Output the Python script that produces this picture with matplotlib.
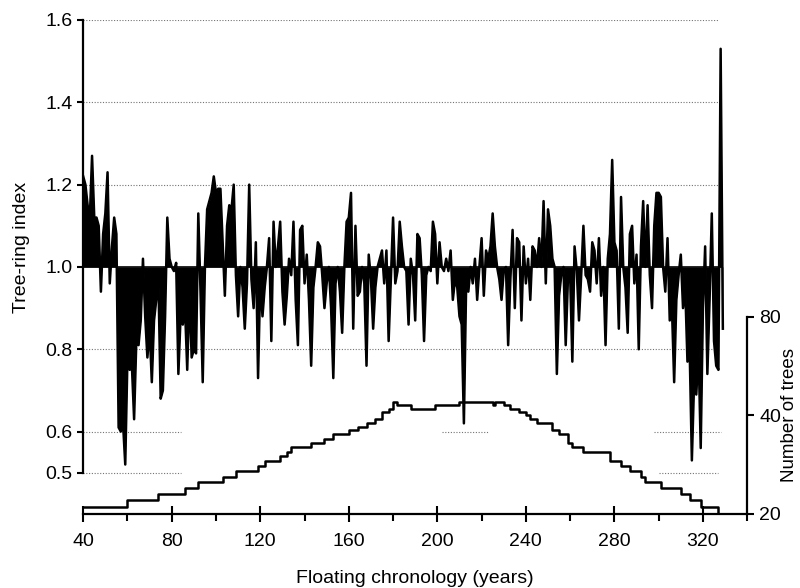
import numpy as np
import matplotlib
matplotlib.use("Agg")
import matplotlib.pyplot as plt

plt.rcParams['font.family'] = ['Liberation Sans', 'DejaVu Sans']

# tree-ring index, one value per year starting at year 40
ring_index = [
    1.22, 1.20, 1.15, 1.12, 1.27, 1.12, 1.12, 1.10, 0.94, 1.08,   # 40-49
    1.13, 1.23, 0.96, 1.05, 1.12, 1.08, 0.61, 0.60, 0.62, 0.52,   # 50-59
    0.78, 0.75, 0.76, 0.63, 0.82, 0.81, 0.87, 1.02, 0.88, 0.78,   # 60-69
    0.85, 0.72, 0.87, 0.92, 0.96, 0.68, 0.70, 0.88, 1.12, 1.02,   # 70-79
    1.00, 0.99, 1.01, 0.74, 0.88, 0.86, 0.90, 0.75, 0.94, 0.78,   # 80-89
    0.80, 0.79, 1.13, 0.94, 0.72, 1.00, 1.14, 1.16, 1.18, 1.22,   # 90-99
    1.18, 1.19, 1.19, 1.06, 0.93, 1.10, 1.15, 1.14, 1.20, 0.98,   # 100-109
    0.88, 1.00, 0.95, 0.85, 0.96, 1.20, 0.97, 0.90, 1.06, 0.73,   # 110-119
    0.97, 0.88, 0.95, 1.00, 1.07, 0.82, 1.11, 1.00, 1.05, 1.11,   # 120-129
    0.94, 0.86, 0.93, 1.02, 0.98, 1.11, 0.92, 0.81, 1.09, 1.10,   # 130-139
    0.96, 1.03, 0.92, 0.76, 0.95, 1.00, 1.06, 1.05, 0.98, 0.90,   # 140-149
    0.96, 1.00, 0.90, 0.73, 0.96, 1.00, 0.94, 0.84, 1.00, 1.11,   # 150-159
    1.12, 1.18, 0.85, 1.10, 0.93, 0.94, 1.00, 0.96, 0.76, 1.03,   # 160-169
    0.97, 0.85, 0.95, 1.00, 1.02, 1.04, 0.96, 1.04, 0.82, 0.97,   # 170-179
    1.12, 0.96, 0.99, 1.11, 1.05, 1.00, 0.99, 0.86, 1.02, 0.98,   # 180-189
    0.87, 1.08, 1.07, 0.98, 0.82, 0.98, 1.00, 0.99, 1.11, 1.08,   # 190-199
    0.96, 1.06, 1.00, 0.99, 1.02, 0.99, 1.04, 0.92, 0.97, 0.95,   # 200-209
    0.88, 0.86, 0.62, 0.95, 0.94, 1.00, 0.96, 1.02, 0.92, 1.00,   # 210-219
    1.07, 0.93, 1.04, 1.02, 1.05, 1.13, 1.05, 1.00, 0.97, 0.92,   # 220-229
    0.99, 1.00, 0.81, 0.97, 1.09, 0.90, 1.07, 1.06, 0.87, 1.05,   # 230-239
    0.96, 1.02, 0.92, 1.05, 1.04, 1.00, 1.07, 1.00, 1.16, 0.96,   # 240-249
    1.14, 1.10, 1.02, 1.00, 0.74, 0.93, 0.98, 1.00, 0.81, 0.97,   # 250-259
    0.98, 0.77, 1.05, 0.99, 0.87, 0.98, 1.10, 0.98, 0.97, 0.94,   # 260-269
    1.06, 1.04, 0.96, 1.07, 0.93, 1.00, 0.81, 1.02, 1.08, 1.26,   # 270-279
    1.06, 1.04, 0.85, 1.17, 1.00, 0.95, 0.84, 1.08, 1.10, 0.96,   # 280-289
    1.03, 0.80, 1.05, 1.16, 1.00, 1.15, 0.98, 0.90, 1.10, 1.18,   # 290-299
    1.18, 1.17, 1.00, 0.94, 1.07, 0.87, 0.90, 0.72, 0.92, 0.98,   # 300-309
    1.03, 0.90, 0.95, 0.77, 0.80, 0.53, 0.72, 0.69, 0.80, 0.56,   # 310-319
    0.90, 1.05, 0.74, 0.92, 1.13, 0.82, 0.76, 0.75, 1.53, 0.85,   # 320-329
]
years = np.arange(40, 40 + len(ring_index))

# sample depth (number of trees), step changes
tree_years = [40, 60, 74, 86, 92, 103, 109, 119, 122, 129, 132, 134, 143, 149,
              153, 160, 164, 168, 172, 175, 178, 180, 182, 188, 199, 210, 225,
              226, 230, 233, 237, 240, 242, 245, 252, 255, 259, 261, 266, 278,
              283, 287, 292, 294, 301, 310, 314, 319, 327, 330]
tree_counts = [21, 22, 23, 24, 25, 26, 27, 28, 29, 30, 31, 32, 33, 34,
               35, 36, 37, 38, 39, 41, 42, 44, 43, 42, 43, 44, 43,
               44, 43, 42, 41, 40, 39, 38, 36, 35, 33, 32, 31, 29,
               28, 27, 26, 25, 24, 23, 22, 21, 20, 20]

fig, ax = plt.subplots(figsize=(8, 5.88), dpi=100)
fig.subplots_adjust(left=0.104, right=0.934, bottom=0.126, top=0.966)

# dotted grid pieces (as in the original, partly missing near the bottom)
grid_pieces = [(1.6, 40, 327), (1.4, 40, 327), (1.2, 40, 327), (0.8, 40, 327),
               (0.6, 40, 84), (0.6, 202, 223), (0.6, 298, 328),
               (0.5, 40, 84), (0.5, 300, 327)]
for lev, x0, x1 in grid_pieces:
    ax.hlines(lev, x0, x1, colors='0.45', linestyles=(0, (1, 1.5)), lw=0.8, zorder=1)

ax.fill_between(years, ring_index, 1.0, color='black', lw=0, zorder=2)
ax.plot(years, ring_index, color='black', lw=1.8, zorder=3)
ax.hlines(1.0, years[0], years[-1], colors='black', lw=1.2, zorder=3)

ax.set_xlim(40, 340)
ax.set_ylim(0.4, 1.6)
ax.set_yticks([0.5, 0.6, 0.8, 1.0, 1.2, 1.4, 1.6])
ax.set_xticks(np.arange(40, 321, 40))
ax.set_xticks(np.arange(60, 341, 40), minor=True)
ax.spines['top'].set_visible(False)
ax.spines['right'].set_visible(False)
ax.spines['left'].set_bounds(0.5, 1.6)
for s in ['left', 'bottom']:
    ax.spines[s].set_linewidth(1.6)
ax.tick_params(axis='y', direction='out', length=4, width=1.5, labelsize=14)
ax.tick_params(axis='x', which='major', direction='inout', length=12, width=1.5,
               labelsize=14, pad=8)
ax.tick_params(axis='x', which='minor', direction='out', length=5, width=1.5)
ax.set_xlabel('Floating chronology (years)', fontsize=14, labelpad=14)
ax.set_ylabel('Tree-ring index', fontsize=14)
ax.yaxis.set_label_coords(-0.08, 0.54)

ax2 = ax.twinx()
ax2.step(tree_years, tree_counts, where='post', color='black', lw=1.8)
ax2.set_yscale('log')
ax2.set_ylim(20, 647)
ax2.set_yticks([20, 40, 80])
ax2.set_yticklabels(['20', '40', '80'])
ax2.yaxis.set_minor_locator(matplotlib.ticker.NullLocator())
for s in ['top', 'left', 'bottom']:
    ax2.spines[s].set_visible(False)
ax2.spines['right'].set_bounds(20, 80)
ax2.spines['right'].set_linewidth(1.6)
ax2.tick_params(axis='y', direction='out', length=5, width=1.5, labelsize=14)
ax2.set_ylabel('Number of trees', fontsize=13.5)
ax2.yaxis.set_label_coords(1.051, 0.2)

fig.savefig('out.png', dpi=100)
